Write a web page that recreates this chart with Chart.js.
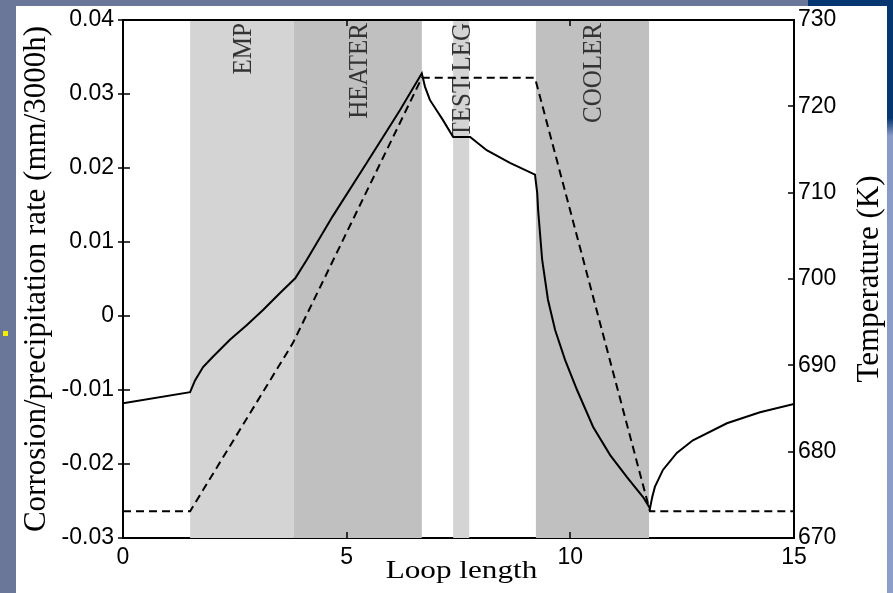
<!DOCTYPE html>
<html>
<head>
<meta charset="utf-8">
<script src="https://cdn.jsdelivr.net/npm/chart.js@4/dist/chart.umd.min.js"></script>
<style>
  body { margin: 0; width: 893px; height: 593px; overflow: hidden; position: relative; background: #6b7798; }
  #navyTop { position: absolute; left: 808px; top: 0; width: 85px; height: 8px; background: #063670; }
  #rightStrip { position: absolute; left: 885px; top: 0; width: 8px; height: 593px;
    background: linear-gradient(to bottom, #063670 0px, #063670 118px, #8a9bc7 136px, #8d9ec9 593px); }
  #bullet { position: absolute; left: 3px; top: 331px; width: 5px; height: 5px; background: #f2ee00; }
  #wrap { position: absolute; left: 16px; top: 6px; width: 871px; height: 587px; background: #fff; }
</style>
</head>
<body>
<div id="navyTop"></div>
<div id="rightStrip"></div>
<div id="bullet"></div>
<div id="wrap"><canvas id="chart"></canvas></div>
<script>
// corrosion / precipitation rate along the loop (solid line, left axis)
const loopLength = [0, 1.5, 1.61, 1.79, 2.01, 2.39, 2.77, 3.13, 3.51, 3.85,
  4.11, 4.69, 5.45, 6.19, 6.68, 6.75, 6.86, 7.01, 7.15, 7.38,
  7.76, 8.13, 8.65, 9.21, 9.26, 9.28, 9.37, 9.5, 9.66, 9.88,
  10.15, 10.51, 10.89, 11.27, 11.63, 11.78, 11.83, 11.89, 12.07, 12.38,
  12.74, 13.5, 14.24, 15]
const corrosionRate = [-0.0118, -0.0103, -0.0087, -0.0069, -0.0055, -0.0032, -0.0012, 0.0008, 0.0031, 0.0051,
  0.0076, 0.0135, 0.0207, 0.0278, 0.0328, 0.031, 0.0292, 0.0278, 0.0265, 0.0242,
  0.0242, 0.0224, 0.0207, 0.0191, 0.0166, 0.0143, 0.0076, 0.0022, -0.0019, -0.0059,
  -0.0100, -0.0150, -0.0188, -0.0218, -0.0245, -0.0260, -0.0245, -0.0231, -0.0208, -0.0185,
  -0.0168, -0.0145, -0.0130, -0.0119]

// temperature (dashed line, right axis)
const tempLength = [0, 1.5, 3.8, 6.68, 9.21, 11.78, 15]
const temperature = [673.1, 673.1, 692.6, 723.3, 723.3, 673.1, 673.1]

// shaded loop sections
const regionNames = ['EMP', 'HEATER', 'TEST LEG', 'COOLER']
const regionStart = [1.5, 3.82, 7.38, 9.23]
const regionEnd = [3.82, 6.68, 7.74, 11.76]
const regionShade = ['#d4d4d4', '#c0c0c0', '#d4d4d4', '#c0c0c0']

// ticks
const lengthTicks = [0, 5, 10, 15]
const lengthTickLabels = ['0', '5', '10', '15']
const rateTicks = [-0.03, -0.02, -0.01, 0, 0.01, 0.02, 0.03, 0.04]
const rateTickLabels = ['-0.03', '-0.02', '-0.01', '0', '0.01', '0.02', '0.03', '0.04']
const tempTicks = [670, 680, 690, 700, 710, 720, 730]
const tempTickLabels = ['670', '680', '690', '700', '710', '720', '730']

const xTitle = 'Loop length'
const yTitle = 'Corrosion/precipitation rate (mm/3000h)'
const y2Title = 'Temperature (K)'

const sans = '"Liberation Sans", Arial, sans-serif'
const serif = '"Liberation Serif", "Times New Roman", serif'

let decor = {
  id: 'decor',
  beforeDatasetsDraw(chart) {
    let ctx = chart.ctx
    let a = chart.chartArea
    let xs = chart.scales.x
    ctx.save()
    regionNames.forEach((name, i) => {
      let x0 = xs.getPixelForValue(regionStart[i])
      let x1 = xs.getPixelForValue(regionEnd[i])
      ctx.fillStyle = regionShade[i]
      ctx.fillRect(x0, a.top, x1 - x0, a.bottom - a.top)
    })
    regionNames.forEach((name, i) => {
      let cx = (xs.getPixelForValue(regionStart[i]) + xs.getPixelForValue(regionEnd[i])) / 2
      ctx.save()
      ctx.translate(cx, a.top + 3)
      ctx.rotate(-Math.PI / 2)
      ctx.scale(1, 1.12)
      ctx.font = '25px ' + serif
      ctx.fillStyle = '#333'
      ctx.textAlign = 'right'
      ctx.textBaseline = 'alphabetic'
      ctx.fillText(name, 0, 8)
      ctx.restore()
    })
    ctx.restore()
  },
  afterDatasetsDraw(chart) {
    let ctx = chart.ctx
    let a = chart.chartArea
    let xs = chart.scales.x, ys = chart.scales.y, ys2 = chart.scales.y2
    ctx.save()
    ctx.strokeStyle = '#000'
    ctx.lineWidth = 2
    ctx.beginPath()
    ctx.moveTo(a.left - 1, a.top)
    ctx.lineTo(a.right + 1, a.top)
    ctx.stroke()

    ctx.lineWidth = 1.5
    ctx.beginPath()
    rateTicks.forEach(v => {
      let y = Math.round(ys.getPixelForValue(v))
      ctx.moveTo(a.left - 5, y)
      ctx.lineTo(a.left + 7, y)
    })
    tempTicks.forEach(v => {
      let y = Math.round(ys2.getPixelForValue(v))
      ctx.moveTo(a.right - 6, y)
      ctx.lineTo(a.right, y)
    })
    lengthTicks.forEach(v => {
      let x = Math.round(xs.getPixelForValue(v))
      ctx.moveTo(x, a.bottom)
      ctx.lineTo(x, a.bottom - 6)
      ctx.moveTo(x, a.top)
      ctx.lineTo(x, a.top + 6)
    })
    ctx.stroke()

    // axis titles
    let midY = (a.top + a.bottom) / 2
    ctx.fillStyle = '#000'
    ctx.textAlign = 'center'
    ctx.textBaseline = 'middle'
    ctx.font = '31px ' + serif
    ctx.save()
    ctx.translate(21, midY)
    ctx.rotate(-Math.PI / 2)
    ctx.fillText(yTitle, 0, 0)
    ctx.restore()
    ctx.save()
    ctx.translate(854, midY)
    ctx.rotate(-Math.PI / 2)
    ctx.fillText(y2Title, 0, 0)
    ctx.restore()
    ctx.save()
    ctx.translate((a.left + a.right) / 2 + 3, 572)
    ctx.scale(1.2, 1)
    ctx.font = '26px ' + serif
    ctx.textBaseline = 'alphabetic'
    ctx.fillText(xTitle, 0, 0)
    ctx.restore()
    ctx.restore()
  }
}

function fixedTicks(values) {
  return scale => { scale.ticks = values.map(v => ({ value: v })) }
}

function fixSize(w, h) {
  return scale => {
    if (w) scale.width = w
    if (h) scale.height = h
    scale.paddingTop = 0
    scale.paddingBottom = 0
    scale.paddingLeft = 0
    scale.paddingRight = 0
  }
}

let ctx = document.getElementById('chart').getContext('2d')
let chart = new Chart(ctx, {
  type: 'line',
  data: {
    datasets: [
      {
        label: 'rate',
        data: loopLength.map((x, i) => ({ x: x, y: corrosionRate[i] })),
        yAxisID: 'y',
        borderColor: '#000',
        borderWidth: 2,
        pointRadius: 0,
        tension: 0,
        fill: false
      },
      {
        label: 'temperature',
        data: tempLength.map((x, i) => ({ x: x, y: temperature[i] })),
        yAxisID: 'y2',
        borderColor: '#000',
        borderWidth: 2,
        borderDash: [8, 5],
        pointRadius: 0,
        tension: 0,
        fill: false
      }
    ]
  },
  options: {
    responsive: true,
    maintainAspectRatio: false,
    animation: false,
    layout: { padding: { top: 14, left: 0, right: 0, bottom: 0 } },
    plugins: { legend: { display: false }, tooltip: { enabled: false } },
    scales: {
      x: {
        type: 'linear', position: 'bottom', min: 0, max: 15,
        afterBuildTicks: fixedTicks(lengthTicks),
        afterFit: fixSize(0, 55),
        grid: { display: false, drawTicks: false },
        border: { display: true, color: '#000', width: 2 },
        ticks: {
          color: '#000', font: { family: sans, size: 23 }, padding: 6,
          maxRotation: 0, autoSkip: false,
          callback: (v, i) => lengthTickLabels[i]
        }
      },
      y: {
        type: 'linear', position: 'left', min: -0.03, max: 0.04,
        afterBuildTicks: fixedTicks(rateTicks),
        afterFit: fixSize(107, 0),
        grid: { display: false, drawTicks: false },
        border: { display: true, color: '#000', width: 2 },
        ticks: {
          color: '#000', font: { family: sans, size: 23 }, padding: 9,
          autoSkip: false,
          callback: (v, i) => rateTickLabels[i]
        }
      },
      y2: {
        type: 'linear', position: 'right', min: 670, max: 730,
        afterBuildTicks: fixedTicks(tempTicks),
        afterFit: fixSize(93, 0),
        grid: { display: false, drawTicks: false },
        border: { display: true, color: '#000', width: 2 },
        ticks: {
          color: '#000', font: { family: sans, size: 23 }, padding: 4,
          autoSkip: false,
          callback: (v, i) => tempTickLabels[i]
        }
      }
    }
  },
  plugins: [decor]
})
</script>
</body>
</html>
